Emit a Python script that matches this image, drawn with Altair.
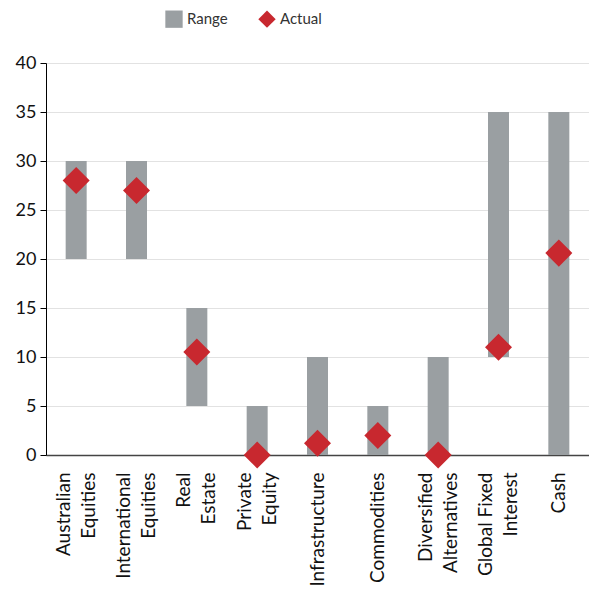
import altair as alt
import pandas as pd

categories = ["Australian Equities", "International Equities", "Real Estate", "Private Equity",
              "Infrastructure", "Commodities", "Diversified Alternatives", "Global Fixed Interest", "Cash"]
range_low = [20, 20, 5, 0, 0, 0, 0, 10, 0]
range_high = [30, 30, 15, 5, 10, 5, 10, 35, 35]
actual = [28, 27, 10.5, 0, 1.2, 2, 0, 11, 20.6]

df = pd.DataFrame({
    "category": categories,
    "low": range_low,
    "high": range_high,
    "actual": actual,
    "s_range": ["Range"] * len(categories),
    "s_actual": ["Actual"] * len(categories),
})

FONT = "Lato"
GRAY = "#9a9fa2"
RED = "#c8282f"

color_scale = alt.Scale(domain=["Range", "Actual"], range=[GRAY, RED])
shape_scale = alt.Scale(domain=["Range", "Actual"], range=["square", "diamond"])

label_expr = ("datum.label == 'Global Fixed Interest' ? ['Global Fixed', 'Interest'] : "
              "datum.label == 'Diversified Alternatives' ? ['Diversified', 'Alternatives'] : "
              "split(datum.label, ' ')")

single_test = "indexof(['Infrastructure', 'Commodities', 'Cash'], datum.label) >= 0"

x_enc = alt.X("category:N", sort=categories, title=None,
              scale=alt.Scale(paddingInner=0, paddingOuter=0),
              axis=alt.Axis(labelAngle=-90, labelAlign="right", labelBaseline="middle",
                            labelExpr=label_expr, labelLineHeight=25, labelFontSize=19,
                            labelOffset={"condition": {"test": single_test, "value": 0}, "value": -12.5},
                            labelPadding=17, ticks=False, domainColor="#444444",
                            domainWidth=1.5, labelColor="#111111", labelFont=FONT, grid=False))

legend = alt.Legend(orient="none", legendX=119, legendY=-53, direction="horizontal",
                    title=None, symbolSize=300, labelFontSize=15, labelFont=FONT,
                    labelColor="#333333", columnPadding=30, symbolStrokeWidth=0,
                    symbolType="square")

bars = alt.Chart(df).mark_bar(size=21).encode(
    x=x_enc,
    y=alt.Y("low:Q", title=None, scale=alt.Scale(domain=[0, 40]),
            axis=alt.Axis(values=list(range(0, 45, 5)), tickSize=6, tickColor="#000000",
                          domainColor="#000000", labelFontSize=18, labelFont=FONT,
                          labelColor="#111111", labelPadding=4, gridColor="#e2e2e2")),
    y2="high:Q",
    color=alt.Color("s_range:N", scale=color_scale, legend=legend),
)

points = alt.Chart(df).mark_point(filled=True, size=730, opacity=1).encode(
    x=alt.X("category:N", sort=categories),
    y=alt.Y("actual:Q"),
    color=alt.Color("s_actual:N", scale=color_scale, legend=legend),
    shape=alt.Shape("s_actual:N", scale=shape_scale, legend=legend),
)

chart = alt.layer(bars, points).properties(
    width=543, height=392,
    autosize=alt.AutoSizeParams(type="none"),
    padding={"left": 46, "top": 63, "right": 0, "bottom": 146},
).configure_view(stroke=None).configure(font=FONT)

chart.save("out.html", embed_options={"renderer": "svg", "actions": False})
